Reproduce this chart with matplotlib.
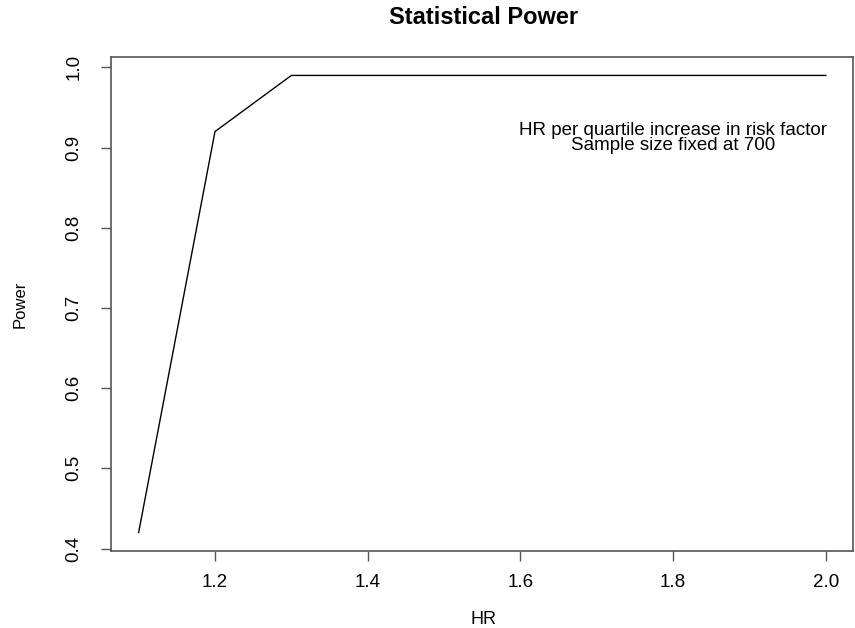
import matplotlib.pyplot as plt

plt.rcParams['font.family'] = ['Liberation Sans', 'DejaVu Sans']

# data
hr = [1.1, 1.2, 1.3, 1.4, 1.5, 1.6, 1.7, 1.8, 1.9, 2.0]
power = [0.42, 0.92, 0.99, 0.99, 0.99, 0.99, 0.99, 0.99, 0.99, 0.99]
xticks = [1.2, 1.4, 1.6, 1.8, 2.0]
yticks = [0.4, 0.5, 0.6, 0.7, 0.8, 0.9, 1.0]
note = 'HR per quartile increase in risk factor\nSample size fixed at 700'

fig = plt.figure(figsize=(8.55, 6.28), dpi=100)
ax = fig.add_axes([0.130, 0.123, 0.868, 0.786])

ax.plot(hr, power, color='black', linewidth=1.0)

# R-style 4% padding
xr = max(hr) - min(hr)
yr = max(power) - min(power)
ax.set_xlim(min(hr) - 0.04 * xr, max(hr) + 0.04 * xr)
ax.set_ylim(min(power) - 0.04 * yr, max(power) + 0.04 * yr)

ax.set_xticks(xticks)
ax.set_xticklabels(['%.1f' % v for v in xticks], fontsize=13.5)
ax.set_yticks(yticks)
ax.set_yticklabels(['%.1f' % v for v in yticks], fontsize=13.5, rotation=90, va='center')
ax.tick_params(length=7.5, width=1, color='#555555')
ax.tick_params(axis='x', pad=9)
ax.tick_params(axis='y', pad=13)
for s in ax.spines.values():
    s.set_color('#555555')
    s.set_linewidth(1.2)

# annotation
ax.text(1.8, 0.912, note, ha='center', va='center', fontsize=13.5, linespacing=0.85)

fig.text(0.565, 1 - 18 / 628, 'Statistical Power', ha='center', va='center',
         fontsize=17, fontweight='bold')
fig.text(0.565, 8 / 628, 'HR', ha='center', va='center', fontsize=13)
fig.text(20 / 855, 0.516, 'Power', ha='center', va='center', fontsize=12, rotation=90)

fig.savefig('out.png', dpi=100)
plt.close()
